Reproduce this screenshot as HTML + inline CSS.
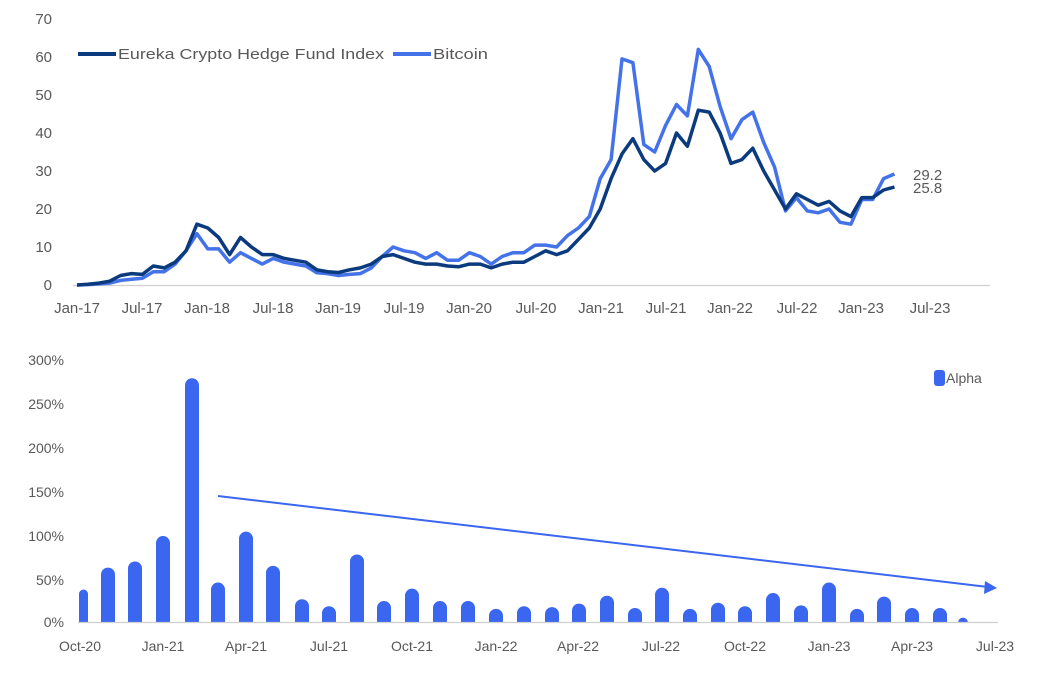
<!DOCTYPE html>
<html><head><meta charset="utf-8"><style>
html,body{margin:0;padding:0;background:#fff;}
svg{display:block;font-family:"Liberation Sans",sans-serif;}
.t{fill:#595959;font-size:15px;}
.b{fill:#595959;font-size:14px;}
</style></head><body>
<svg id="s" width="1041" height="691" viewBox="0 0 1041 691">
<rect width="1041" height="691" fill="#fff"/>
<g class="t" text-anchor="end">
<text x="52" y="24">70</text><text x="52" y="62">60</text><text x="52" y="100">50</text>
<text x="52" y="138">40</text><text x="52" y="176">30</text><text x="52" y="214">20</text>
<text x="52" y="252">10</text><text x="52" y="290">0</text>
</g>
<line x1="73" y1="285.5" x2="990" y2="285.5" stroke="#d0d0d0" stroke-width="1.2"/>
<g class="t" text-anchor="middle">
<text x="77" y="313">Jan-17</text><text x="142" y="313">Jul-17</text><text x="207" y="313">Jan-18</text>
<text x="273" y="313">Jul-18</text><text x="338" y="313">Jan-19</text><text x="404" y="313">Jul-19</text>
<text x="469" y="313">Jan-20</text><text x="536" y="313">Jul-20</text><text x="601" y="313">Jan-21</text>
<text x="666" y="313">Jul-21</text><text x="730" y="313">Jan-22</text><text x="797" y="313">Jul-22</text>
<text x="861" y="313">Jan-23</text><text x="930" y="313">Jul-23</text>
</g>
<line x1="78" y1="54" x2="116" y2="54" stroke="#0b3a7e" stroke-width="4"/>
<text class="t" x="118" y="59" textLength="266" lengthAdjust="spacingAndGlyphs">Eureka Crypto Hedge Fund Index</text>
<line x1="393" y1="54" x2="431" y2="54" stroke="#4472e8" stroke-width="4"/>
<text class="t" x="433" y="59" textLength="55" lengthAdjust="spacingAndGlyphs">Bitcoin</text>
<polyline id="btc" fill="none" stroke="#4472e8" stroke-width="3.5" stroke-linejoin="round"/>
<polyline id="eur" fill="none" stroke="#0b3a7e" stroke-width="3.5" stroke-linejoin="round"/>
<text class="t" x="913" y="180">29.2</text>
<text class="t" x="913" y="193">25.8</text>

<g class="b" text-anchor="end">
<text x="64" y="365">300%</text><text x="64" y="409">250%</text><text x="64" y="453">200%</text>
<text x="64" y="497">150%</text><text x="64" y="541">100%</text><text x="64" y="585">50%</text>
<text x="64" y="627">0%</text>
</g>
<g id="bars" fill="#3a66f0"></g>
<line x1="78" y1="622.5" x2="998" y2="622.5" stroke="#d0d0d0" stroke-width="1.2"/>
<g class="b" text-anchor="middle">
<text x="80" y="651">Oct-20</text><text x="163" y="651">Jan-21</text><text x="246" y="651">Apr-21</text>
<text x="329" y="651">Jul-21</text><text x="412" y="651">Oct-21</text><text x="496" y="651">Jan-22</text>
<text x="578" y="651">Apr-22</text><text x="661" y="651">Jul-22</text><text x="745" y="651">Oct-22</text>
<text x="829" y="651">Jan-23</text><text x="912" y="651">Apr-23</text><text x="995" y="651">Jul-23</text>
</g>
<line x1="218" y1="496" x2="988" y2="587" stroke="#3a66f0" stroke-width="2"/>
<polygon points="997,588 985,581 984,594" fill="#3a66f0"/>
<rect x="934" y="370" width="11" height="16" rx="3" fill="#3a66f0"/>
<text class="b" x="946" y="383">Alpha</text>
</svg>
<script>
var e=[0,0.2,0.5,1,2.5,3,2.8,5,4.5,6,9,16,15,12.5,8,12.5,10,8,8,7,6.5,6,4,3.5,3.3,4,4.5,5.5,7.5,8,7,6,5.5,5.5,5,4.8,5.5,5.5,4.5,5.5,6,6,7.5,9,8,9,12,15,20,28,34.5,38.5,33,30,32,40,36.5,46,45.5,40,32,33,36,30,25,20,24,22.5,21,22,19.5,18,23,23,25,25.8];
var b=[0,0.1,0.3,0.5,1.2,1.5,1.8,3.5,3.5,5.5,9,13.5,9.5,9.5,6,8.5,7,5.5,7,6,5.5,5,3.2,3,2.5,2.8,3,4.5,7.5,10,9,8.5,7,8.5,6.5,6.5,8.5,7.5,5.5,7.5,8.5,8.5,10.5,10.5,10,13,18,28,33,59.5,58.5,37,35,42,47.5,44.5,62,57.5,47,38.5,43.5,45.5,37.5,31,19.5,23,19.5,19,20,16.5,16,22.5,22.5,28,29.2];
b.splice(46,0,15);
function pts(a){return a.map(function(v,i){return (77+i*10.9).toFixed(1)+","+(285-v*3.8).toFixed(1)}).join(" ");}
document.getElementById("eur").setAttribute("points",pts(e));
document.getElementById("btc").setAttribute("points",pts(b));
var bx=[83,108,135,163,192,218,246,273,302,329,357,384,412,440,468,496,524,552,579,607,635,662,690,718,745,773,801,829,857,884,912,940,963];
var bv=[37,62,69,98,278,45,103,64,26,18,77,24,38,24,24,15,18,17,21,30,16,39,15,22,18,33,19,45,15,29,16,16,5];
var g=document.getElementById("bars"),h="";
for(var i=0;i<bx.length;i++){var hh=bv[i]*0.877,w=i==32?10:14,x=bx[i]-w/2,y=622-hh;
if(i==0){x=79;w=9;}
h+='<path d="M'+x+' 622 V'+(y+w/2)+' A'+(w/2)+' '+(w/2)+' 0 0 1 '+(x+w)+' '+(y+w/2)+' V622 Z"/>';}
g.innerHTML=h;
</script>
</body></html>
